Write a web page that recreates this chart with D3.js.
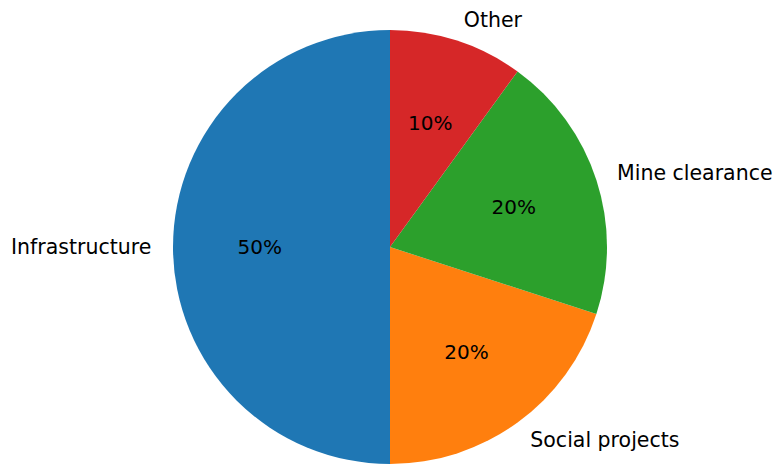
<!DOCTYPE html>
<html>
<head>
<meta charset="utf-8">
<script src="https://cdn.jsdelivr.net/npm/d3@7"></script>
<style>
  body { margin: 0; background: #fff; }
  svg { display: block; }
</style>
</head>
<body>
<div id="chart"></div>
<script>
const labels = ["Infrastructure", "Social projects", "Mine clearance", "Other"];
const shares = [50, 20, 20, 10];
const colors = ["#1f77b4", "#ff7f0e", "#2ca02c", "#d62728"];

const width = 775, height = 464;
const cx = 390, cy = 247, radius = 217;

const svg = d3.select("#chart").append("svg")
  .attr("width", width)
  .attr("height", height)
  .style("font-family", "'DejaVu Sans', sans-serif");

const g = svg.append("g").attr("transform", `translate(${cx},${cy})`);

// matplotlib style: start at top, go counterclockwise
const pie = d3.pie().sort(null).startAngle(0).endAngle(-2 * Math.PI);
const arcs = pie(shares);

const arc = d3.arc().innerRadius(0).outerRadius(radius);
const labelArc = d3.arc().innerRadius(radius * 1.1).outerRadius(radius * 1.1);
const pctArc = d3.arc().innerRadius(radius * 0.6).outerRadius(radius * 0.6);

g.selectAll("path.slice")
  .data(arcs)
  .enter().append("path")
  .attr("class", "slice")
  .attr("d", arc)
  .attr("fill", (d, i) => colors[i]);

g.selectAll("text.label")
  .data(arcs)
  .enter().append("text")
  .attr("class", "label")
  .attr("transform", d => `translate(${labelArc.centroid(d)})`)
  .attr("dy", "0.35em")
  .attr("text-anchor", d => labelArc.centroid(d)[0] < 0 ? "end" : "start")
  .style("font-size", "20.5px")
  .attr("fill", "#000")
  .text((d, i) => labels[i]);

g.selectAll("text.pct")
  .data(arcs)
  .enter().append("text")
  .attr("class", "pct")
  .attr("transform", d => `translate(${pctArc.centroid(d)})`)
  .attr("dy", "0.35em")
  .attr("text-anchor", "middle")
  .style("font-size", "20px")
  .attr("fill", "#000")
  .text(d => d.data + "%");
</script>
</body>
</html>
